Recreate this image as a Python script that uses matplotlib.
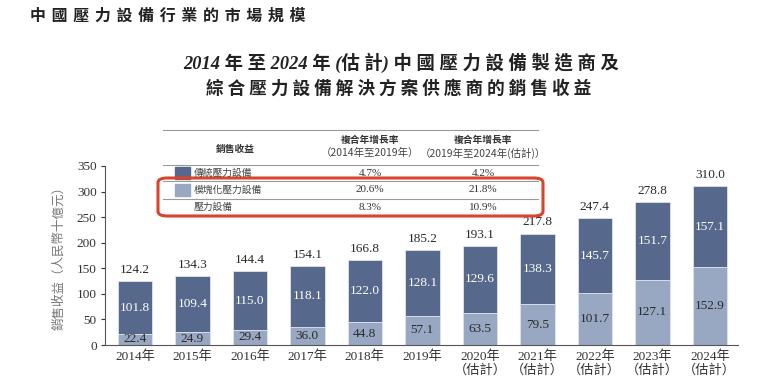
import matplotlib
matplotlib.use("Agg")
import matplotlib.pyplot as plt
from matplotlib.patches import FancyBboxPatch, Rectangle
from matplotlib.lines import Line2D

plt.rcParams['font.family'] = ['Liberation Serif', 'Noto Sans CJK TC', 'DejaVu Sans']

years = ["2014年", "2015年", "2016年", "2017年", "2018年", "2019年",
         "2020年\n（估計）", "2021年\n（估計）", "2022年\n（估計）", "2023年\n（估計）", "2024年\n（估計）"]
modular = [22.4, 24.9, 29.4, 36.0, 44.8, 57.1, 63.5, 79.5, 101.7, 127.1, 152.9]
traditional = [101.8, 109.4, 115.0, 118.1, 122.0, 128.1, 129.6, 138.3, 145.7, 151.7, 157.1]
totals = [124.2, 134.3, 144.4, 154.1, 166.8, 185.2, 193.1, 217.8, 247.4, 278.8, 310.0]

legend_names = ["傳統壓力設備", "模塊化壓力設備", "壓力設備"]
cagr_1419 = ["4.7%", "20.6%", "8.3%"]
cagr_1924 = ["4.2%", "21.8%", "10.9%"]

DARK = "#56698d"
LIGHT = "#98a8c2"
CJK = ['Noto Sans CJK TC', 'DejaVu Sans']

fig = plt.figure(figsize=(7.74, 3.86), dpi=100)
W, H = 774, 386
def fx(px): return px / W
def fy(py): return 1 - py / H

ax = fig.add_axes([fx(105), fy(345), fx(738) - fx(105), fy(166) - fy(345)])
x = list(range(len(years)))
ax.bar(x, modular, width=0.6, color=LIGHT, edgecolor="#dfe4ee", linewidth=0.6)
ax.bar(x, traditional, bottom=modular, width=0.6, color=DARK, edgecolor="#dfe4ee", linewidth=0.6)

for i in x:
    ax.text(i, modular[i] / 2, f"{modular[i]:.1f}", ha="center", va="center",
            fontsize=9.5, color="#2a2a2a")
    ax.text(i, modular[i] + traditional[i] / 2, f"{traditional[i]:.1f}", ha="center",
            va="center", fontsize=9.5, color="white")
    ax.text(i, totals[i] + 10, f"{totals[i]:.1f}", ha="center", va="bottom",
            fontsize=9.5, color="#2a2a2a")

ax.set_xlim(-0.52, 10.49)
ax.set_ylim(0, 350)
ax.set_yticks(range(0, 351, 50))
ax.set_xticks(x)
ax.set_xticklabels(years, fontsize=9.5, color="#333333", linespacing=1.1)
ax.tick_params(axis="x", length=0, pad=4)
ax.tick_params(axis="y", length=3, labelsize=9.5, colors="#333333", pad=3)
for s in ["top", "right"]:
    ax.spines[s].set_visible(False)
ax.spines["left"].set_color("#555555")
ax.spines["bottom"].set_color("#555555")
ax.spines["left"].set_linewidth(0.8)
ax.spines["bottom"].set_linewidth(0.8)
for lbl in ax.get_xticklabels():
    lbl.set_family(['Liberation Serif', 'Noto Sans CJK TC'])

ax.set_ylabel("銷售收益（人民幣十億元）", fontsize=9, color="#777777", family=CJK, labelpad=8)

# headers
fig.text(fx(30), fy(16), " ".join("中國壓力設備行業的市場規模"), fontsize=11.5,
         family=['DejaVu Sans', 'Noto Sans CJK TC'], color="#222222", ha="left",
         va="center", weight="bold")
fig.text(fx(401), fy(63), "2014 年 至 2024 年 (估 計) 中 國 壓 力 設 備 製 造 商 及", fontsize=13.2,
         family=['Liberation Serif', 'Noto Sans CJK TC'], style="italic", weight="bold",
         ha="center", va="center", color="#222222")
fig.text(fx(399), fy(89), " ".join("綜合壓力設備解決方案供應商的銷售收益"), fontsize=12.7,
         family=CJK, weight="bold", ha="center", va="center", color="#222222")

# table
for yy in [130, 165, 181, 199]:
    fig.add_artist(Line2D([fx(163), fx(538)], [fy(yy), fy(yy)], color="#9a9a9a", lw=0.8))
fig.text(fx(235), fy(149), "銷售收益", fontsize=7, family=CJK, weight="bold",
         ha="center", va="center", color="#333333")
for cx, rng in [(370, "（2014年至2019年）"), (483, "（2019年至2024年(估計)）")]:
    fig.text(fx(cx), fy(140), "複合年增長率", fontsize=7, family=CJK, weight="bold",
             ha="center", va="center", color="#333333")
    fig.text(fx(cx), fy(153), rng, fontsize=7.5, family=CJK,
             ha="center", va="center", color="#444444")
row_y = [173, 190, 207]
sq_colors = [DARK, LIGHT, None]
for r in range(3):
    if sq_colors[r]:
        fig.add_artist(Rectangle((fx(175), fy(row_y[r] + 6)), fx(15), fy(0) - fy(12),
                                 color=sq_colors[r]))
    fig.text(fx(194), fy(row_y[r]), legend_names[r], fontsize=7, family=CJK,
             ha="left", va="center", color="#444444")
    fig.text(fx(370), fy(row_y[r]), cagr_1419[r], fontsize=8, ha="center", va="center",
             color="#333333")
    fig.text(fx(483), fy(row_y[r]), cagr_1924[r], fontsize=8, ha="center", va="center",
             color="#333333")

fig.add_artist(FancyBboxPatch((fx(158), fy(216)), fx(543) - fx(158), fy(178) - fy(216),
                              boxstyle="round,pad=0,rounding_size=0.012",
                              fill=False, edgecolor="#d9452c", lw=2.2))

fig.savefig("out.png", dpi=100)
